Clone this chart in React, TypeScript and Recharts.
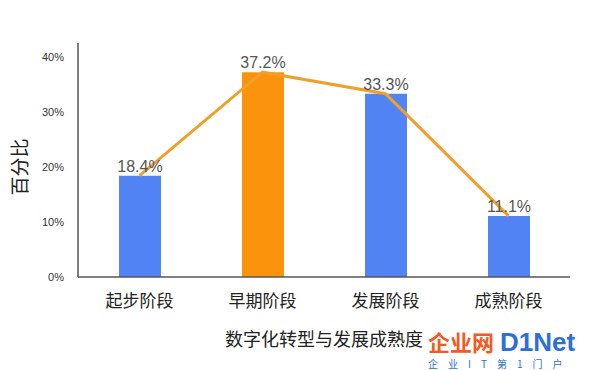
import React from 'react';
import { ComposedChart, Bar, Line, XAxis, YAxis, Cell, LabelList, Label } from 'recharts';

const stages = ['起步阶段', '早期阶段', '发展阶段', '成熟阶段'];
const shares = [18.4, 37.2, 33.3, 11.1];
const barColors = ['#5283f5', '#fb930d', '#5283f5', '#5283f5'];
const yTicks = [0, 10, 20, 30, 40];

const font = '"Liberation Sans", "Noto Sans CJK SC", sans-serif';

const App: React.FC = () => {
  const data = stages.map((name, i) => ({ name, value: shares[i] }));

  return (
    <div style={{ position: 'absolute', left: 0, top: 0, width: 600, height: 370, background: '#fff', fontFamily: font }}>
      <ComposedChart width={600} height={370} data={data} margin={{ top: 43, right: 30, left: 0, bottom: 24 }}>
        <XAxis
          dataKey="name"
          axisLine={{ stroke: '#555', strokeWidth: 1.5 }}
          tickLine={false}
          tick={{ fill: '#222', fontSize: 17, fontFamily: font }}
          tickMargin={12}
          height={69}
        >
          <Label value="数字化转型与发展成熟度" position="insideBottom" offset={0} fill="#222" fontSize={18} fontFamily={font} />
        </XAxis>
        <YAxis
          domain={[0, 42.5]}
          ticks={yTicks}
          width={78}
          axisLine={{ stroke: '#555', strokeWidth: 1.5 }}
          tickLine={false}
          tickFormatter={(v: number) => `${v}%`}
          tick={{ fill: '#333', fontSize: 11, fontFamily: font }}
          tickMargin={8}
        >
          <Label
            content={() => (
              <text x={20} y={167} transform="rotate(-90 20 167)" textAnchor="middle" dominantBaseline="central" fill="#222" fontSize={19} fontFamily={font}>
                百分比
              </text>
            )}
          />
        </YAxis>
        <Bar dataKey="value" barSize={42} isAnimationActive={false}>
          {data.map((d, i) => (
            <Cell key={d.name} fill={barColors[i]} />
          ))}
          <LabelList dataKey="value" position="top" offset={4} formatter={(v: number) => `${v}%`} fill="#555" fontSize={16} fontFamily={font} />
        </Bar>
        <Line type="linear" dataKey="value" stroke="#f0a02a" strokeWidth={3} dot={false} activeDot={false} isAnimationActive={false} />
      </ComposedChart>
      <div style={{ position: 'absolute', left: 428, top: 325, whiteSpace: 'nowrap' }}>
        <span style={{ color: '#f25a1f', fontSize: 22, fontWeight: 'bold', fontFamily: '"Noto Sans CJK SC", sans-serif' }}>企业网</span>
        <span style={{ color: '#2c6fd6', fontSize: 26, fontWeight: 'bold', fontFamily: font, marginLeft: 6 }}>D1Net</span>
      </div>
      <div style={{ position: 'absolute', left: 428, top: 356, color: '#2c6fd6', fontSize: 10, letterSpacing: 10, whiteSpace: 'nowrap', fontFamily: '"Noto Sans CJK SC", sans-serif' }}>
        企业IT第1门户
      </div>
    </div>
  );
};

export default App;
